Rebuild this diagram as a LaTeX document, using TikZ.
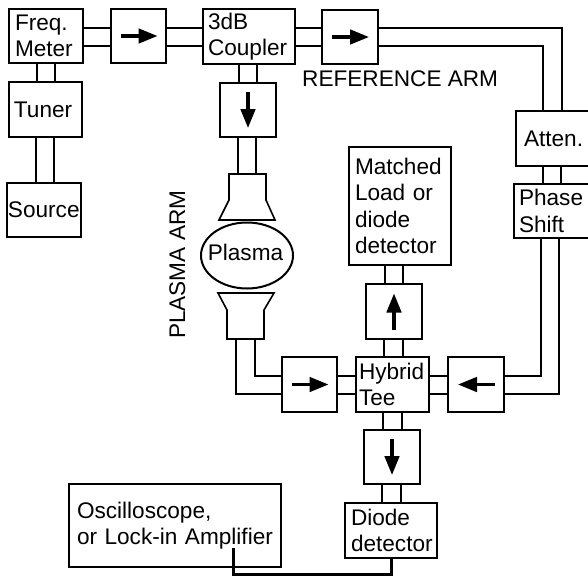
\documentclass[tikz,border=0pt]{standalone}
\usepackage{fontspec}
\setmainfont{Liberation Sans}
\usetikzlibrary{arrows.meta,shapes.geometric}
\tikzset{
  wire/.style={line width=1.6pt},
  box/.style={draw,line width=1.8pt,inner sep=0pt,outer sep=0pt,align=left,
    font=\fontsize{22.6}{26.5}\selectfont},
  flow/.style={line width=3.2pt,-{Triangle[length=19pt,width=14.5pt]},shorten >=0pt},
  label/.style={inner sep=0pt,font=\fontsize{22.6}{26.5}\selectfont}
}
% name, left, top, right, bottom, text inset, text
\newcommand{\bx}[7]{\def\ii{\hspace*{#6pt}}\node[box,text width=#4pt-#2pt,minimum height=#5pt-#3pt] (#1) at ({(#2+#4)/2},{(#3+#5)/2}) {#7};}
\newcommand{\hpair}[4]{\draw[wire] (#1.east |- 0,#3) -- (#2.west |- 0,#3) (#1.east |- 0,#4) -- (#2.west |- 0,#4);}
\newcommand{\vpair}[4]{\draw[wire] (#1.south -| #3,0) -- (#2.north -| #3,0) (#1.south -| #4,0) -- (#2.north -| #4,0);}
\begin{document}
\begin{tikzpicture}[x=1pt,y=-1pt]
\useasboundingbox (0,0) rectangle (588,576);
\bx{freq}{9}{9}{83}{63}{6}{\ii Freq.\\\ii Meter}
\bx{isoa}{111}{9}{166}{63}{0}{}
\bx{coupler}{203}{9}{295}{64}{5}{\ii 3dB\\\ii Coupler}
\bx{isob}{322}{10}{378}{64}{0}{}
\bx{tuner}{9}{82}{82}{137}{5}{\ii Tuner}
\bx{source}{7}{183}{81}{237}{1}{\ii Source}
\bx{isoc}{220}{83}{276}{137}{0}{}
\bx{atten}{516}{111}{590}{166}{8}{\ii Atten.}
\bx{phase}{514}{184}{590}{238}{5}{\ii Phase\\\ii Shift}
\bx{matched}{349}{147}{451}{265}{6}{\ii Matched\\\ii Load or\\\ii diode\\\ii detector}
\bx{isod}{366}{284}{422}{339}{0}{}
\bx{isoe}{282}{357}{337}{412}{0}{}
\bx{hybrid}{356}{357}{429}{412}{3}{\ii Hybrid\\\ii Tee}
\bx{isof}{448}{357}{504}{412}{0}{}
\bx{isog}{364}{430}{420}{484}{0}{}
\bx{diode}{345}{503}{437}{558}{6}{\ii Diode\\\ii detector}
\bx{scope}{69}{484}{281}{567}{8}{\ii\raisebox{3pt}{Oscilloscope,}\\\ii\raisebox{3pt}{or Lock-in Amplifier}}
\node[label,anchor=base west] (refarm) at (302,86) {REFERENCE ARM};
\node[label,rotate=90,anchor=base west] (plasarm) at (185,339) {PLASMA ARM};
% isolator arrows
\draw[flow] ([xshift=-18pt]isoa.center) -- ([xshift=19pt]isoa.center);
\draw[flow] ([xshift=-18pt]isob.center) -- ([xshift=19pt]isob.center);
\draw[flow] ([xshift=-18pt]isoe.center) -- ([xshift=19pt]isoe.center);
\draw[flow] ([xshift=19pt]isof.center) -- ([xshift=-18pt]isof.center);
\draw[flow] ([yshift=18pt]isoc.center) -- ([yshift=-18pt]isoc.center);
\draw[flow] ([yshift=18pt]isog.center) -- ([yshift=-18pt]isog.center);
\draw[flow] ([yshift=-18pt]isod.center) -- ([yshift=18pt]isod.center);
% waveguide pairs
\hpair{freq}{isoa}{28}{46}
\hpair{isoa}{coupler}{28}{46}
\hpair{coupler}{isob}{28}{46}
\hpair{isoe}{hybrid}{376}{394}
\hpair{hybrid}{isof}{376}{394}
\vpair{freq}{tuner}{37}{55}
\vpair{tuner}{source}{36}{54}
\vpair{coupler}{isoc}{239}{257}
\vpair{atten}{phase}{543}{561}
\vpair{matched}{isod}{385}{403}
\vpair{isod}{hybrid}{384}{403}
\vpair{hybrid}{isog}{383}{402}
\vpair{isog}{diode}{382}{401}
% horns and plasma
\node[draw,line width=2pt,ellipse,minimum width=92pt,minimum height=66pt,inner sep=0pt,outer sep=0pt,font=\fontsize{22.6}{26.5}\selectfont] (plasma) at (247,255.5) {\raisebox{-5pt}[0pt][0pt]{\makebox[0pt]{\hspace*{-3pt}Plasma}}};
\coordinate (horndn) at (236,339);
\coordinate (horndnr) at (255,339);
\draw[wire,line join=miter] (229,174) -- (266,174) -- (266,200) -- (275,220) -- (219,220) -- (229,200) -- cycle;
\draw[wire,line join=miter] (218,293) -- (274,293) -- (264,310) -- (264,339) -- (227,339) -- (227,310) -- cycle;
\draw[wire] (isoc.south -| 238,0) -- (238,174) (isoc.south -| 256,0) -- (256,174);
% lower-left bends
\draw[wire] (horndn) -- (236,394) -- (isoe.west |- 0,394);
\draw[wire] (horndnr) -- (255,376) -- (isoe.west |- 0,376);
% reference arm bends
\draw[wire] (isob.east |- 0,28) -- (562,28) -- (atten.north -| 562,0);
\draw[wire] (isob.east |- 0,46) -- (543,46) -- (atten.north -| 543,0);
\draw[wire] (phase.south -| 541,0) -- (541,376) -- (isof.east |- 0,376);
\draw[wire] (phase.south -| 559,0) -- (559,394) -- (isof.east |- 0,394);
% signal cable
\draw[line width=3pt,line join=miter] (diode.south -| 391,0) -- (391,574) -- (233,574) -- (233,548);
\end{tikzpicture}
\end{document}
